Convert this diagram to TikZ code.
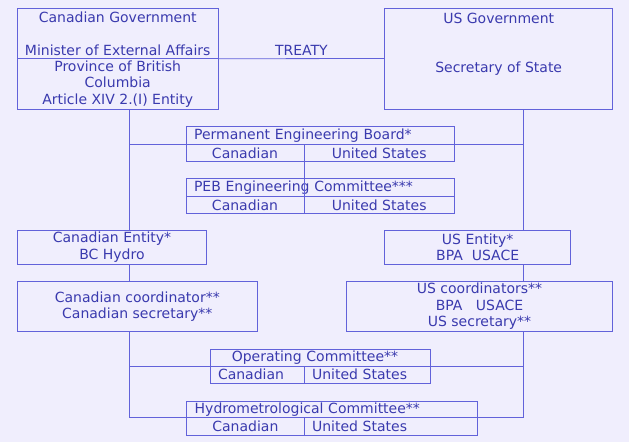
\documentclass[tikz,border=0pt]{standalone}
\usepackage{fontspec}
\setmainfont{DejaVu Sans}
\definecolor{bgc}{HTML}{F0EEFD}
\definecolor{linec}{HTML}{6262DA}
\definecolor{inkc}{HTML}{3A3AAE}

\begin{document}
\begin{tikzpicture}[x=1pt,y=-1pt,
	box/.style={draw=linec,line width=0.8pt,inner sep=0pt,outer sep=0pt,align=center,text=inkc,font=\fontsize{14}{16.5}\selectfont},
	txt/.style={text=inkc,inner sep=0pt,font=\fontsize{14}{16.5}\selectfont},
	row/.style={box,minimum height=17.5pt},
	lefty/.style={align=left,inner xsep=8pt,text width=#1},
	link/.style={draw=linec,line width=0.8pt}]
	\fill[bgc] (0,0) rectangle (629,442);
	\useasboundingbox (0,0) rectangle (629,442);
	\coordinate (lt) at (129,0);
	\coordinate (rt) at (523.7,0);
	\node[box,minimum width=200.7pt,minimum height=50.7pt] (cgov) at (117.7,33.4) {Canadian Government\\ \\Minister of External Affairs};
	\node[box,minimum width=200.7pt,minimum height=50.3pt] (cbc) at (117.7,83.9) {Province of British\\Columbia\\Article XIV 2.(I) Entity};
	\node[box,minimum width=228pt,minimum height=101pt] (usgov) at (498.7,58.5) {};
	\node[txt] (usname) at (498.7,18.5) {US Government};
	\node[txt] (ussec) at (498.7,68.5) {Secretary of State};
	\node[row,lefty=252.3pt,minimum height=17.3pt] (peb) at (320.2,135.4) {Permanent Engineering Board*};
	\node[row,minimum width=118pt,minimum height=17.7pt] (pebca) at (245,152.9) {Canadian};
	\node[row,minimum width=150.3pt,minimum height=17.7pt] (pebus) at (379.2,152.9) {United States};
	\node[row,lefty=252.3pt,minimum height=18.4pt] (eng) at (320.2,187.5) {PEB Engineering Committee***};
	\node[row,minimum width=118pt,minimum height=16.3pt] (engca) at (245,204.9) {Canadian};
	\node[row,minimum width=150.3pt,minimum height=16.3pt] (engus) at (379.2,204.9) {United States};
	\node[box,minimum width=189.4pt,minimum height=34.3pt] (ce) at (112,247.2) {Canadian Entity*\\BC Hydro};
	\node[box,minimum width=186pt,minimum height=34.3pt] (ue) at (477.7,247.2) {US Entity*\\BPA\ \ USACE};
	\node[box,minimum width=240pt,minimum height=50.7pt] (cc) at (137.3,306.4) {Canadian coordinator**\\Canadian secretary**};
	\node[box,minimum width=266.4pt,minimum height=50.7pt] (uc) at (479.5,306.4) {US coordinators**\\BPA\ \ \ USACE\\US secretary**};
	\node[row,align=left,inner xsep=21.7pt,text width=177.3pt,minimum height=16.7pt] (op) at (320.4,357.7) {Operating Committee**};
	\node[row,lefty=78pt,minimum height=17.3pt] (opca) at (257,374.7) {Canadian};
	\node[row,lefty=110.7pt,minimum height=17.3pt] (opus) at (367.4,374.7) {United States};
	\node[row,lefty=274.6pt,minimum height=16.3pt] (hyd) at (332,409.2) {Hydrometrological Committee**};
	\node[row,minimum width=117.3pt,minimum height=17.7pt] (hydca) at (245.4,426.2) {Canadian};
	\node[row,lefty=157.3pt,minimum height=17.7pt] (hydus) at (390.7,426.2) {United States};
	\draw[link] (cgov.south east) -- node[txt,above=3pt] (treaty) {TREATY} (usgov.west);
	\draw[link] (cbc.south -| lt) -- (ce.north -| lt);
	\draw[link] (ce.south -| lt) -- (cc.north -| lt);
	\draw[link] (cc.south -| lt) -- (hyd.south -| lt) -- (hyd.south -| rt) -- (uc.south -| rt);
	\draw[link] (usgov.south -| rt) -- (ue.north -| rt);
	\draw[link] (ue.south -| rt) -- (uc.north -| rt);
	\draw[link] (peb.south -| lt) -- (peb.south -| rt);
	\draw[link] (op.south -| lt) -- (op.south -| rt);
	\draw[link] (pebca.south east) -- (engca.north east);
\end{tikzpicture}
\end{document}
